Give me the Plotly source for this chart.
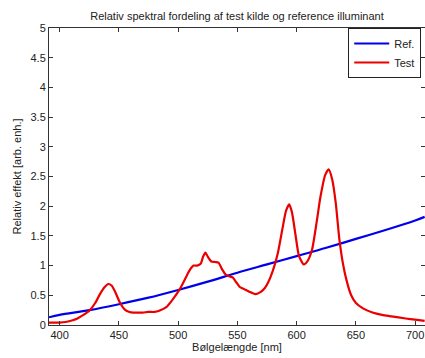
import plotly.graph_objects as go

ref_wl = [391, 400, 425, 450, 475, 500, 525, 550, 575, 600, 625, 650, 675, 700, 708]
ref_val = [0.13, 0.17, 0.25, 0.35, 0.46, 0.59, 0.73, 0.88, 1.02, 1.16, 1.30, 1.45, 1.60, 1.76, 1.82]

test_wl = [391, 395, 400, 405, 411, 415, 420, 425, 430, 434, 438, 441, 444, 447, 451, 455, 459, 462,
           466, 470, 475, 480, 484, 490, 495, 501, 505, 509, 513, 516, 519, 521, 523, 525, 528,
           531, 534, 537, 540, 543, 546, 549, 552, 556, 560, 565, 569, 573, 576, 580, 584, 588,
           591, 593.7, 596, 599, 602, 606, 609, 613, 617, 620, 624, 627, 630, 633, 636, 639, 642,
           646, 650, 656, 664, 672, 680, 692, 700, 708]
test_val = [0.04, 0.04, 0.04, 0.05, 0.08, 0.11, 0.17, 0.24, 0.37, 0.52, 0.64, 0.69, 0.66, 0.55, 0.37,
            0.26, 0.22, 0.21, 0.21, 0.21, 0.22, 0.22, 0.24, 0.30, 0.42, 0.59, 0.74, 0.90, 1.00, 1.00,
            1.03, 1.15, 1.22, 1.15, 1.07, 1.06, 1.05, 0.94, 0.85, 0.82, 0.80, 0.72, 0.64, 0.60, 0.56,
            0.52, 0.55, 0.62, 0.72, 0.92, 1.20, 1.62, 1.92, 2.03, 1.90, 1.52, 1.16, 1.02, 1.07, 1.27,
            1.75, 2.15, 2.52, 2.62, 2.45, 2.05, 1.45, 1.04, 0.76, 0.50, 0.37, 0.28, 0.21, 0.17, 0.145,
            0.11, 0.09, 0.07]

title_text = "Relativ spektral fordeling af test kilde og reference illuminant"
x_title = "Bølgelængde [nm]"
y_title = "Relativ effekt [arb. enh.]"

fig = go.Figure()
fig.add_trace(go.Scatter(x=ref_wl, y=ref_val, mode="lines", name="Ref.",
                         line=dict(color="rgb(0,0,235)", width=2.2, shape="spline", smoothing=1.0)))
fig.add_trace(go.Scatter(x=test_wl, y=test_val, mode="lines", name="Test",
                         line=dict(color="rgb(235,0,0)", width=2.2, shape="spline", smoothing=0.6)))

font = dict(family="Liberation Sans, Arial, sans-serif", size=11, color="#222")
axis_common = dict(showgrid=False, zeroline=False, showline=True, linecolor="#333", linewidth=1,
                   mirror="ticks", ticks="inside", ticklen=4, tickcolor="#333",
                   tickfont=font)

fig.update_layout(
    width=425, height=358,
    margin=dict(l=49, r=0, t=28, b=33),
    paper_bgcolor="white", plot_bgcolor="white",
    font=font,
    title=dict(text=title_text, x=0.5, xref="paper", xanchor="center", y=0.955, yanchor="middle",
               font=dict(family="Liberation Sans, Arial, sans-serif", size=11, color="#222")),
    xaxis=dict(range=[391, 708.3], tickmode="array", tickvals=[400, 450, 500, 550, 600, 650, 700],
               title=dict(text=x_title, standoff=2, font=font), **axis_common),
    yaxis=dict(range=[0, 5], dtick=0.5, tick0=0,
               title=dict(text=y_title, standoff=6, font=font), **axis_common),
    legend=dict(x=0.99, xanchor="right", y=1.0, yanchor="top", bgcolor="white",
                bordercolor="#222", borderwidth=1, itemwidth=35,
                font=dict(family="Liberation Sans, Arial, sans-serif", size=11, color="#222"),
                tracegroupgap=0),
    showlegend=True,
)

fig.write_html("out.html")
